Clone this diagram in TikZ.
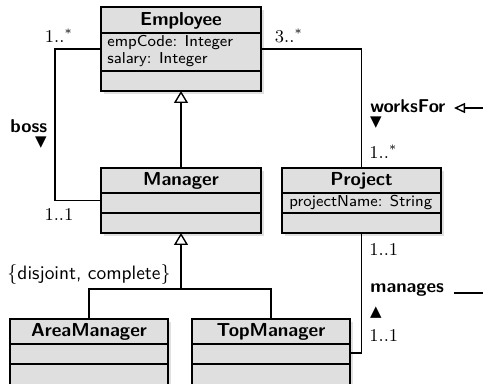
\documentclass[tikz,border=0pt]{standalone}
\usepackage{fontspec}
\newfontfamily\symf{DejaVu Sans}
\usetikzlibrary{arrows.meta,shadows,calc}
\tikzset{
  cls/.style={draw=black, line width=0.9pt, fill=gray!25, inner sep=0pt, outer sep=0pt,
    drop shadow={shadow xshift=1.5pt, shadow yshift=-1.5pt, fill=black!12, opacity=1}},
  sepline/.style={line width=0.9pt},
  con/.style={line width=0.7pt},
  gen/.style={con, -{Triangle[open, length=6pt, width=7pt]}},
  ctitle/.style={font=\sffamily\bfseries\fontsize{9.4}{10}\selectfont, inner sep=0pt, anchor=base},
  attr/.style={font=\sffamily\fontsize{7.9}{9}\selectfont, inner sep=0pt, anchor=base west},
  mult/.style={font=\fontsize{9}{10}\selectfont, inner sep=0pt},
  role/.style={font=\sffamily\bfseries\fontsize{9.3}{10}\selectfont, inner sep=0pt, anchor=base west},
  sym/.style={font=\symf\fontsize{7.5}{8}\selectfont, inner sep=0pt},
  cons/.style={font=\sffamily\fontsize{9.7}{10}\selectfont, inner sep=0pt, anchor=east}
}
\begin{document}
\begin{tikzpicture}[x=0.5pt, y=-0.5pt]
\useasboundingbox (0,0) rectangle (483,384);
% classes
\node[cls, minimum width=80pt, minimum height=42pt] (emp) at (181,49) {};
\draw[sepline] ($(emp.north west)+(0,26)$) -- ($(emp.north east)+(0,26)$);
\draw[sepline] ($(emp.north west)+(0,64)$) -- ($(emp.north east)+(0,64)$);
\node[ctitle] (empT) at (181,26) {Employee};
\node[attr] (empA1) at (107,47) {empCode: Integer};
\node[attr] (empA2) at (107,64) {salary: Integer};

\node[cls, minimum width=80pt, minimum height=32.5pt] (mgr) at (181,200.5) {};
\draw[sepline] ($(mgr.north west)+(0,25)$) -- ($(mgr.north east)+(0,25)$);
\draw[sepline] ($(mgr.north west)+(0,45)$) -- ($(mgr.north east)+(0,45)$);
\node[ctitle] (mgrT) at (181,186) {Manager};

\node[cls, minimum width=79.5pt, minimum height=32.5pt] (prj) at (361.5,200.5) {};
\draw[sepline] ($(prj.north west)+(0,25)$) -- ($(prj.north east)+(0,25)$);
\draw[sepline] ($(prj.north west)+(0,45)$) -- ($(prj.north east)+(0,45)$);
\node[ctitle] (prjT) at (361.5,186) {Project};
\node[attr] (prjA1) at (289,207) {projectName: String};

\node[cls, minimum width=79pt, minimum height=34pt] (area) at (89,353) {};
\draw[sepline] ($(area.north west)+(0,25)$) -- ($(area.north east)+(0,25)$);
\draw[sepline] ($(area.north west)+(0,45)$) -- ($(area.north east)+(0,45)$);
\node[ctitle] (areaT) at (89,337) {AreaManager};

\node[cls, minimum width=79pt, minimum height=34pt] (top) at (271,353) {};
\draw[sepline] ($(top.north west)+(0,25)$) -- ($(top.north east)+(0,25)$);
\draw[sepline] ($(top.north west)+(0,45)$) -- ($(top.north east)+(0,45)$);
\node[ctitle] (topT) at (271,337) {TopManager};

% generalizations
\draw[gen] (mgr.north) -- (emp.south);
\coordinate (split) at (181,289);
\draw[gen] (area.north) |- (split) -- (mgr.south);
\draw[con] (top.north) |- (split);
\node[cons] (gs) at (171,275) {$\{$disjoint, complete$\}$};

% associations
\coordinate (bossc) at (55,49);
\draw[con] (emp.west) -- (bossc) |- (mgr.west);
\draw[con] (emp.east) -| (prj.north);
\draw[con] (prj.south) |- (top.east);

% labels
\node[mult] (m1) at (59,36) {$1..^{*}$};
\node[mult] (m2) at (289,36) {$3..^{*}$};
\node[mult] (m3) at (59,215) {$1..1$};
\node[role] (boss) at (10,133) {boss};
\node[sym] (bossdir) at (41,143) {▼};

\node[role] (wf) at (370,113) {worksFor};
\node[sym] (wfdir) at (376,123) {▼};
\node[mult, anchor=west] (m4) at (369,152) {$1..^{*}$};
\coordinate (wfout) at (495,108);
\draw[con, -{Triangle[open, length=5.5pt, width=5pt]}] (wfout) -- (454,108);

\node[mult, anchor=west] (m5) at (369,250) {$1..1$};
\node[role] (mg) at (370,293) {manages};
\node[sym] (mgdir) at (376,313) {▲};
\node[mult, anchor=west] (m6) at (369,336) {$1..1$};
\coordinate (mgout) at (495,293);
\draw[con] (mgout) -- (454,293);
\end{tikzpicture}
\end{document}
